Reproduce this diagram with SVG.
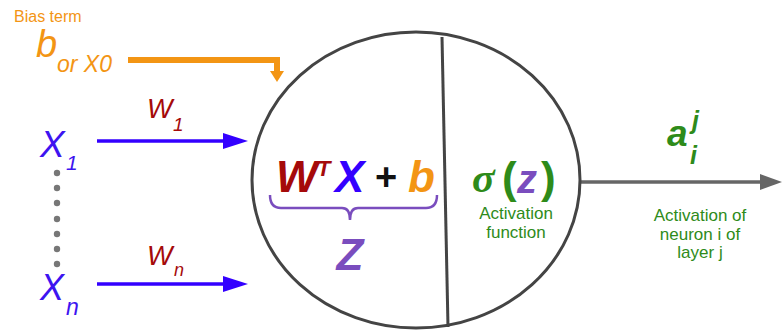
<svg xmlns="http://www.w3.org/2000/svg" width="782" height="330" viewBox="0 0 782 330">
<style>
text{font-family:"Liberation Sans",Arial,sans-serif}
.or{fill:#f39514}
.bl{fill:#3d14f0}
.rd{fill:#a50a0a}
.gr{fill:#2e8b1a}
.pu{fill:#7a4dbe}
.it{font-style:italic}
.bi{font-style:italic;font-weight:bold}
.sm{font-size:17px}
.mid{text-anchor:middle}
</style>
<rect width="782" height="330" fill="#ffffff"/>
<g id="connectors">
  <path d="M128,60 H277 V72" fill="none" stroke="#f39514" stroke-width="6"/>
  <polygon points="270,71 284,71 277,82" fill="#f39514"/>
  <line x1="97" y1="141" x2="226" y2="141" stroke="#3300ff" stroke-width="3.5"/>
  <polygon points="223,133 248,141 223,149" fill="#3300ff"/>
  <line x1="97" y1="284" x2="226" y2="284" stroke="#3300ff" stroke-width="3.5"/>
  <polygon points="223,276 248,284 223,292" fill="#3300ff"/>
  <line x1="580" y1="182" x2="762" y2="182" stroke="#666666" stroke-width="3.5"/>
  <polygon points="760,174 782,182 760,190" fill="#666666"/>
  <text x="147" y="118" class="rd it" font-size="27">W</text>
  <text x="173" y="131" class="rd it" font-size="19">1</text>
  <text x="147" y="265" class="rd it" font-size="27">W</text>
  <text x="174" y="276" class="rd it" font-size="18">n</text>
</g>
<g id="bias">
  <text x="14" y="22" class="or" font-size="16">Bias term</text>
  <text x="36" y="57" class="or it" font-size="38">b</text>
  <text x="57" y="72" class="or it" font-size="23">or X0</text>
</g>
<g id="x1">
  <text x="40" y="157" class="bl it" font-size="37">X</text>
  <text x="66" y="170" class="bl it" font-size="21">1</text>
</g>
<g id="dots" fill="#777777">
  <circle cx="57" cy="173" r="3.2"/>
  <circle cx="57" cy="188" r="3.2"/>
  <circle cx="57" cy="203" r="3.2"/>
  <circle cx="57" cy="219" r="3.2"/>
  <circle cx="57" cy="234" r="3.2"/>
  <circle cx="57" cy="249" r="3.2"/>
  <circle cx="57" cy="264" r="3.2"/>
</g>
<g id="xn">
  <text x="40" y="300" class="bl it" font-size="36">X</text>
  <text x="66" y="315" class="bl it" font-size="23">n</text>
</g>
<g id="neuron">
  <ellipse cx="416" cy="180" rx="164" ry="148" fill="none" stroke="#444444" stroke-width="3"/>
  <line x1="442" y1="37" x2="448" y2="327" stroke="#444444" stroke-width="3"/>
  <text x="276" y="192" class="rd bi" font-size="44">W</text>
  <text x="317" y="176" class="rd bi" font-size="22">T</text>
  <text x="335" y="192" class="bi" font-size="44" fill="#3300ff">X</text>
  <text x="375" y="190" font-size="38" font-weight="bold" fill="#111111">+</text>
  <text x="408" y="192" class="or bi" font-size="44">b</text>
  <path d="M270,195 Q270,208 281,208 H342 Q350,208 350,220 Q350,208 358,208 H426 Q437,208 437,195" fill="none" stroke="#7a4dbe" stroke-width="2.5"/>
  <text x="350" y="270" class="pu bi mid" font-size="44">Z</text>
  <text x="472" y="192" class="gr" font-size="42" font-style="italic" font-weight="bold" style="font-family:'Liberation Serif','DejaVu Serif',serif">σ</text>
  <text x="502" y="193" class="gr" font-size="44" font-weight="bold">(</text>
  <text x="517" y="193" class="pu bi" font-size="40">z</text>
  <text x="541" y="193" class="gr" font-size="44" font-weight="bold">)</text>
  <text x="516" y="219" class="gr sm mid">Activation</text>
  <text x="516" y="238" class="gr sm mid">function</text>
</g>
<g id="output">
  <text x="667" y="146" class="gr bi" font-size="37">a</text>
  <text x="692" y="129" class="gr bi" font-size="25">j</text>
  <text x="690" y="164" class="gr bi" font-size="25">i</text>
  <text x="700" y="221" class="gr sm mid">Activation of</text>
  <text x="700" y="240" class="gr sm mid">neuron i of</text>
  <text x="700" y="258" class="gr sm mid">layer j</text>
</g>
</svg>
